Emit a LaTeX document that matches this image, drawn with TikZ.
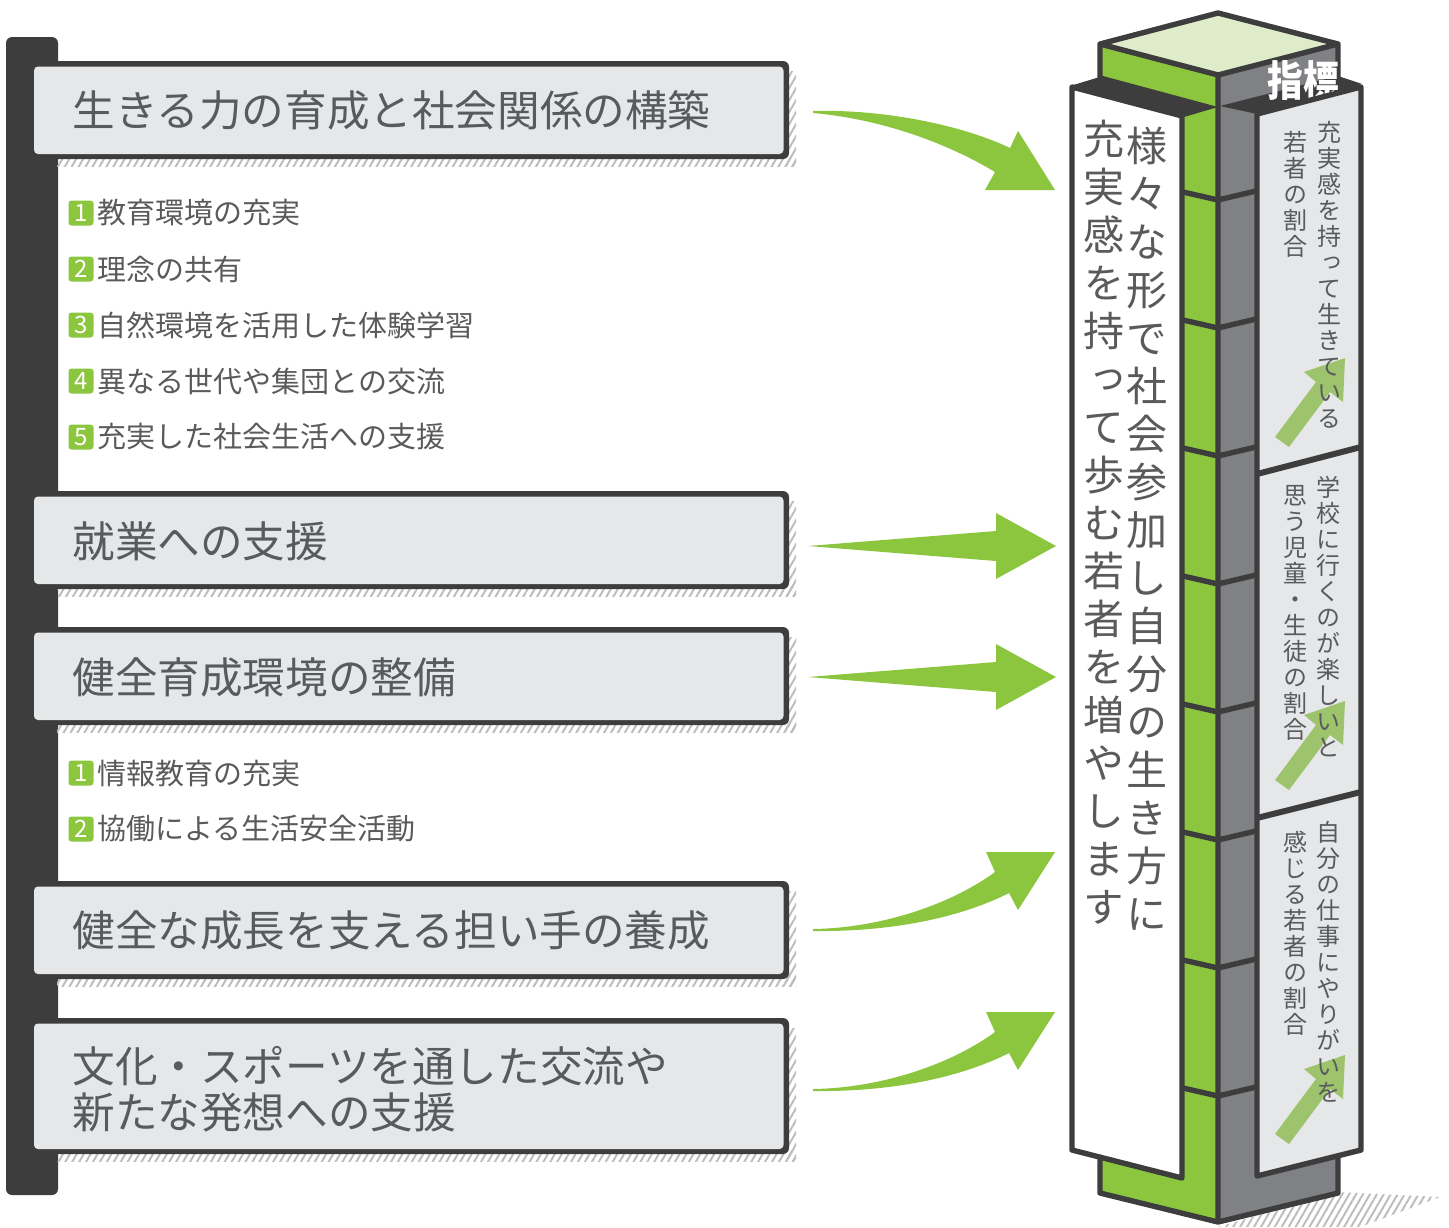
\documentclass[tikz,border=0pt]{standalone}
\usepackage{fontspec}
\setmainfont{Noto Sans CJK JP}
\newfontfamily\cjkv[RawFeature=+vert]{Noto Sans CJK JP}
\usetikzlibrary{patterns.meta}
\definecolor{dk}{HTML}{3D3D3D}
\definecolor{bxg}{HTML}{E6E7E8}
\definecolor{txt}{HTML}{595A5C}
\definecolor{grn}{HTML}{8CC63F}
\definecolor{ltg}{HTML}{DEECCA}
\definecolor{cgr}{HTML}{808184}
\definecolor{arg}{HTML}{9DC46C}
\definecolor{hat}{HTML}{BDBDBD}
\def\vtaux#1{\ifx\relax#1\else\hbox to 1em{\hss\vrule height .88em depth .12em width 0pt #1\hss}\expandafter\vtaux\fi}
\newcommand\vtext[2]{\vbox{\baselineskip=#1\relax\lineskiplimit=-100pt\relax\lineskip=0pt\relax\vtaux#2\relax}}
\begin{document}
\begin{tikzpicture}[x=0.5pt,y=-0.5pt,
  title/.style={anchor=west, inner sep=0, text=txt, font=\fontsize{21.3}{23}\selectfont},
  item/.style={anchor=west, inner sep=0, text=txt, font=\fontsize{14.5}{16}\selectfont},
  badge/.style={fill=grn, rounded corners=1.5pt, minimum size=12.5pt, inner sep=0, text=white, font=\fontsize{12}{13}\selectfont},
  hatch/.style={pattern={Lines[angle=60,distance=3pt,line width=1pt]}, pattern color=hat},
  dkl/.style={draw=dk, line width=2.7pt, line join=round},
  vcol/.style={inner sep=0, anchor=north, text=txt}]
\useasboundingbox (0,0) rectangle (1449,1227);
% left bar
\fill[dk, rounded corners=3pt] (6,37) rectangle (58,1195);
% boxes
\foreach \t/\b in {61/159, 491/589, 627/725, 881/979, 1018/1154} {
  \path[hatch] (57,\b-3) rectangle (796,\b+7);
  \path[hatch] (786,\t+10) rectangle (796,\b+7);
  \fill[dk, rounded corners=3pt] (40,\t) rectangle (789,\b);
  \fill[bxg, rounded corners=2pt] (34,\t+5.5) rectangle (783.5,\b-5);
}
\node[title] (t1) at (72,110) {生きる力の育成と社会関係の構築};
\node[title] (t2) at (72,541) {就業への支援};
\node[title] (t3) at (72,677) {健全育成環境の整備};
\node[title] (t4) at (72,930) {健全な成長を支える担い手の養成};
\node[title, align=left] (t5) at (72,1089) {文化・スポーツを通した交流や\\新たな発想への支援};
% sub items
\node[badge] (n1) at (81,213) {1}; \node[item] (i1) at (97,213) {教育環境の充実};
\node[badge] (n2) at (81,269) {2}; \node[item] (i2) at (97,269) {理念の共有};
\node[badge] (n3) at (81,325) {3}; \node[item] (i3) at (97,325) {自然環境を活用した体験学習};
\node[badge] (n4) at (81,381) {4}; \node[item] (i4) at (97,381) {異なる世代や集団との交流};
\node[badge] (n5) at (81,437) {5}; \node[item] (i5) at (97,437) {充実した社会生活への支援};
\node[badge] (m1) at (81,773) {1}; \node[item] (j1) at (97,773) {情報教育の充実};
\node[badge] (m2) at (81,829) {2}; \node[item] (j2) at (97,829) {協働による生活安全活動};
% big arrows
\fill[grn] (813,111) .. controls (880,109) and (960,124) .. (1010,148) -- (1018,131) -- (1055,190) -- (985,190) -- (995,172) .. controls (945,142) and (880,119) .. (813,113) -- cycle;
\fill[grn] (808,546) -- (996,531) -- (996,513) -- (1056,546) -- (996,579) -- (996,561) -- cycle;
\fill[grn] (808,677) -- (996,662) -- (996,644) -- (1056,677) -- (996,710) -- (996,692) -- cycle;
\foreach \d in {0,160} {
\fill[grn] (813,929+\d) .. controls (880,928+\d) and (950,905+\d) .. (995,872+\d) -- (986,852+\d) -- (1055,852+\d) -- (1018,910+\d) -- (1009,893+\d) .. controls (960,918+\d) and (890,932+\d) .. (813,931+\d) -- cycle;
}
% pillar ground shadow
\path[hatch] (1218,1227) -- (1337,1192) -- (1440,1197) -- (1360,1227) -- cycle;
% core
\fill[grn] (1100,44) -- (1218,75) -- (1218,1222) -- (1100,1193) -- cycle;
\fill[cgr] (1218,75) -- (1338,44) -- (1338,1193) -- (1218,1222) -- cycle;
\fill[ltg] (1100,44) -- (1218,13) -- (1338,44) -- (1218,75) -- cycle;
\draw[dkl] (1100,44) -- (1218,13) -- (1338,44) -- (1338,1193) -- (1218,1222) -- (1100,1193) -- cycle;
\draw[dkl] (1100,44) -- (1218,75) -- (1338,44) (1218,75) -- (1218,1222);
% panel tops
\fill[dk] (1070,86) -- (1103,76) -- (1218,107) -- (1184,117) -- cycle;
\fill[dk] (1220,106) -- (1338,76) -- (1362,84) -- (1257,114) -- cycle;
\node[text=white, font=\fontsize{21}{22}\bfseries, inner sep=0] (shihyo) at (1303,81) {\scalebox{0.85}[1]{指標}};
% panels
\filldraw[fill=white, dkl] (1072,87) -- (1182,116) -- (1182,1178) -- (1072,1150) -- cycle;
\filldraw[fill=bxg, dkl] (1257,114) -- (1361,87) -- (1361,1150) -- (1257,1176) -- cycle;
\draw[dk, line width=3pt] (1257,474) -- (1361,447) (1257,818) -- (1361,792);
\foreach \k in {0,...,7} {
  \draw[dk, line width=2.7pt, line join=round] (1183,192+128*\k) -- (1218,200+128*\k) -- (1256,191+128*\k);
}
% small arrows
\foreach \d in {0,343,697} {
  \fill[arg] (1275,437+\d) -- (1316,382+\d) -- (1304,372+\d) -- (1345,358+\d) -- (1343,402+\d) -- (1330,392+\d) -- (1289,447+\d) -- cycle;
}
% vertical texts
\node[vcol, font=\fontsize{20.5}{24}\cjkv] (v1) at (1147,125) {\vtext{24pt}{様々な形で社会参加し自分の生き方に}};
\node[vcol, font=\fontsize{20.5}{24}\cjkv] (v2) at (1104,118) {\vtext{24pt}{充実感を持って歩む若者を増やします}};
\node[vcol, font=\fontsize{12}{13}\cjkv] (p1a) at (1329,120) {\vtext{13pt}{充実感を持って生きている}};
\node[vcol, font=\fontsize{12}{13}\cjkv] (p1b) at (1295,130) {\vtext{13pt}{若者の割合}};
\node[vcol, font=\fontsize{12}{13}\cjkv] (p2a) at (1328,475) {\vtext{13pt}{学校に行くのが楽しいと}};
\node[vcol, font=\fontsize{12}{13}\cjkv] (p2b) at (1295,483) {\vtext{13pt}{思う児童・生徒の割合}};
\node[vcol, font=\fontsize{12}{13}\cjkv] (p3a) at (1328,820) {\vtext{13pt}{自分の仕事にやりがいを}};
\node[vcol, font=\fontsize{12}{13}\cjkv] (p3b) at (1295,830) {\vtext{13pt}{感じる若者の割合}};
\end{tikzpicture}
\end{document}
